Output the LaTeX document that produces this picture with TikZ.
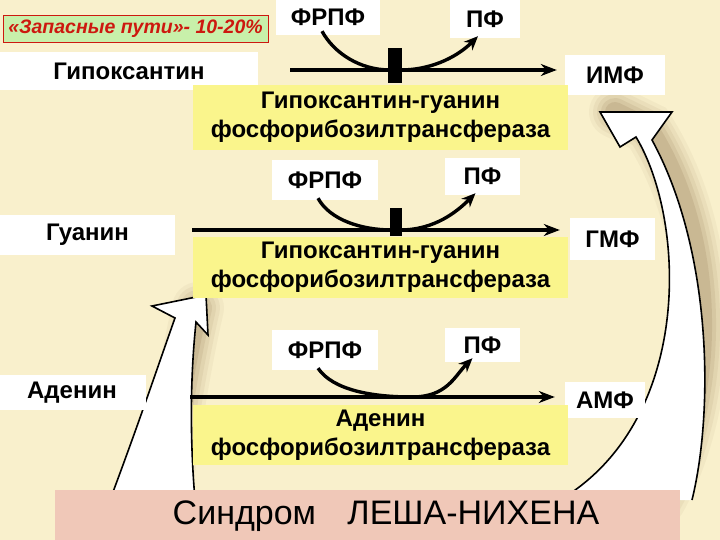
\documentclass[tikz,border=0pt]{standalone}
\usepackage{fontspec}
\setmainfont{Liberation Sans}
\usetikzlibrary{positioning,arrows.meta}

\definecolor{bgbeige}{RGB}{249,240,204}
\definecolor{enzyellow}{RGB}{250,245,140}
\definecolor{notegreen}{RGB}{200,240,170}
\definecolor{notered}{RGB}{205,25,15}
\definecolor{titlepink}{RGB}{240,200,184}
\definecolor{shadowbrown}{RGB}{95,55,15}

\tikzset{
  metab/.style={fill=white, inner sep=0pt, font=\fontsize{24}{28}\selectfont\bfseries},
  enzyme/.style={fill=enzyellow, inner sep=0pt, align=center, minimum width=375pt,
    font=\fontsize{24}{29}\selectfont\bfseries},
  rxn/.style={line width=3.4pt, -{Stealth[length=16pt, width=12pt]}},
  cofac/.style={line width=3.4pt},
  bigarrow/.style={fill=white, draw=black, line width=1.6pt, line join=miter},
}

\begin{document}
\begin{tikzpicture}[x=1pt, y=-1pt]
      \useasboundingbox (0,0) rectangle (720,540);
      \clip (0,0) rectangle (720,540);
      \fill[bgbeige] (0,0) rectangle (720,540);
      % Shadows of the big arrows
      \foreach \w/\o in {52/0.04, 44/0.05, 36/0.06, 28/0.08, 20/0.10} {
        \draw[shadowbrown, opacity=\o, line width=\w pt, line cap=round]
          (660,500) .. controls (716,400) and (720,240) .. (648,128) -- (615,112);
        \draw[shadowbrown, opacity=\o, line width=\w pt, line cap=round]
          (165,500) .. controls (176,420) and (186,360) .. (198,308);
      }
      % Big white arrows
      \filldraw[bigarrow]
        (692,500) .. controls (714,410) and (712,250) .. (652,140)
        -- (672,112) -- (600,112) -- (620,147) -- (636,137)
        .. controls (686,220) and (694,420) .. (560,500);
      \filldraw[bigarrow]
        (110,500) .. controls (140,420) and (160,360) .. (175,318)
        -- (152,306) -- (206,295) -- (208,335) -- (196,322)
        .. controls (190,380) and (190,440) .. (195,500);
      % Define nodes
      \node[draw=notered, line width=0.8pt, fill=notegreen, text=notered, inner sep=0pt,
        minimum width=265pt, minimum height=27pt,
        font=\fontsize{19.5}{22}\selectfont\bfseries\itshape] (note) at (135.5,28.5)
        {«Запасные пути»- 10-20\%};
      \node[metab, minimum width=104pt, minimum height=35pt] (frpf1) at (328,17.5) {ФРПФ};
      \node[metab, minimum width=70pt, minimum height=38pt] (pf1) at (485,19) {ПФ};
      \node[metab, minimum width=258pt, minimum height=38pt] (hyp) at (129,71) {Гипоксантин};
      \node[metab, minimum width=100pt, minimum height=40pt] (imf) at (615,75) {ИМФ};
      \node[enzyme, minimum height=65pt] (enz1) at (380.5,117.5)
        {Гипоксантин-гуанин\\фосфорибозилтрансфераза};
      \node[metab, minimum width=106pt, minimum height=40pt, below=162.5pt of frpf1.center,
        anchor=center, xshift=-3pt] (frpf2) {ФРПФ};
      \node[metab, minimum width=75pt, minimum height=37pt] (pf2) at (482.5,176.5) {ПФ};
      \node[metab, minimum width=175pt, minimum height=40pt] (gua) at (87.5,235) {Гуанин};
      \node[metab, minimum width=85pt, minimum height=42pt] (gmf) at (612.5,239) {ГМФ};
      \node[enzyme, minimum height=61pt] (enz2) at (380.5,267.5)
        {Гипоксантин-гуанин\\фосфорибозилтрансфераза};
      \node[metab, minimum width=106pt, minimum height=40pt, below=170pt of frpf2.center,
        anchor=center] (frpf3) {ФРПФ};
      \node[metab, minimum width=75pt, minimum height=34pt] (pf3) at (482.5,345) {ПФ};
      \node[metab, minimum width=148pt, minimum height=35pt] (ade) at (72,392.5) {Аденин};
      \node[metab, minimum width=80pt, minimum height=36pt] (amf) at (605,400) {АМФ};
      \node[enzyme, minimum height=60pt] (enz3) at (380.5,435)
        {Аденин\\фосфорибозилтрансфераза};
      \node[fill=titlepink, inner sep=0pt, minimum width=625pt, minimum height=52pt,
        font=\fontsize{34}{36}\selectfont] (title) at (367.5,516)
        {\hspace{37pt}Синдром\hspace{22pt} ЛЕША-НИХЕНА};
      % Connect nodes
      \coordinate (r1s) at (290,70);
      \coordinate (r2s) at (192,230);
      \coordinate (r3s) at (190,397);
      \fill (388,48) rectangle (402,83);
      \fill (390,208) rectangle (402,236);
      \draw[rxn] (r1s) -- ([xshift=-8pt]r1s -| imf.west);
      \draw[rxn] (r2s) -- ([xshift=-10pt]r2s -| gmf.west);
      \draw[rxn] (r3s) -- ([xshift=-10pt]r3s -| amf.west);
      \draw[cofac] ([xshift=-6pt, yshift=4pt]frpf1.south) .. controls +(12,22) and +(-30,0) .. (390,70);
      \draw[rxn, -{Stealth[length=14pt, width=12pt]}] (400,70) .. controls +(35,0) and +(-18,18) .. ([xshift=-7pt, yshift=2pt]pf1.south);
      \draw[cofac] ([xshift=-7pt, yshift=2pt]frpf2.south) .. controls +(12,22) and +(-30,0) .. (392,230);
      \draw[rxn, -{Stealth[length=14pt, width=12pt]}] (400,230) .. controls +(35,0) and +(-18,18) .. ([xshift=-7pt, yshift=2pt]pf2.south);
      \draw[cofac] ([xshift=-7pt, yshift=2pt]frpf3.south) .. controls +(15,22) and +(-40,0) .. (412,397);
      \draw[rxn, -{Stealth[length=14pt, width=12pt]}] (412,397) .. controls +(35,0) and +(-18,18) .. ([xshift=-10pt, yshift=4pt]pf3.south);
    \end{tikzpicture}
\end{document}
